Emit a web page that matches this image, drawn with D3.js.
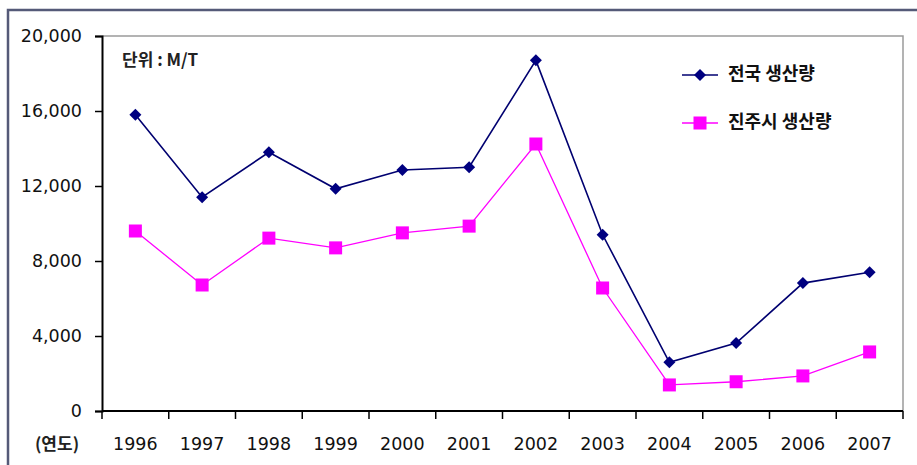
<!DOCTYPE html>
<html>
<head>
<meta charset="utf-8">
<script src="https://cdn.jsdelivr.net/npm/d3@7"></script>
<style>
  html, body { margin: 0; padding: 0; background: #fff; }
  svg { display: block; }
</style>
</head>
<body>
<svg id="chart" width="917" height="465"></svg>
<script>
const years = ["1996","1997","1998","1999","2000","2001","2002","2003","2004","2005","2006","2007"];
const nationalValues = [15800, 11400, 13800, 11850, 12850, 13000, 18700, 9400, 2600, 3620, 6820, 7400];
const cityValues = [9600, 6720, 9220, 8700, 9500, 9860, 14240, 6560, 1390, 1560, 1870, 3150];
const yTicks = [0, 4000, 8000, 12000, 16000, 20000];
const seriesNames = ["전국 생산량", "진주시 생산량"];
const unitLabel = "단위 : M/T";
const xAxisTitle = "(연도)";

const svg = d3.select("#chart");
const pL = 102, pR = 903, pT = 36, pB = 411;

const x = d3.scaleBand().domain(years).range([pL, pR]).paddingInner(0).paddingOuter(0);
const y = d3.scaleLinear().domain([0, 20000]).range([pB, pT]);

// outer frame
svg.append("rect").attr("x", 8).attr("y", 10).attr("width", 1000).attr("height", 1000)
  .attr("fill", "#fff").attr("stroke", "#555a78").attr("stroke-width", 2.5);

// plot area border (top & right gray)
svg.append("path")
  .attr("d", `M${pL},${pT}H${pR}V${pB}`)
  .attr("fill", "none").attr("stroke", "#9a9a9a").attr("stroke-width", 1.5);

const numFont = "'DejaVu Sans', sans-serif";
const krFont = "'Noto Sans CJK KR', sans-serif";

// y axis
const yAxis = d3.axisLeft(y).tickValues(yTicks).tickSize(7).tickPadding(13)
  .tickFormat(d3.format(","));
const gy = svg.append("g").attr("transform", `translate(${pL},0)`).call(yAxis);
gy.select(".domain").attr("stroke", "#000").attr("stroke-width", 2);
gy.selectAll(".tick line").attr("stroke", "#000").attr("stroke-width", 1.5);
gy.selectAll(".tick text").attr("font-family", numFont).attr("font-size", 17.5)
  .attr("fill", "#111");

// x axis: ticks at category boundaries
const boundaries = years.map(d => x(d)).concat([pR]);
const gx = svg.append("g").attr("transform", `translate(0,${pB})`);
gx.append("line").attr("x1", pL).attr("x2", pR).attr("y1", 0).attr("y2", 0)
  .attr("stroke", "#000").attr("stroke-width", 2);
gx.selectAll("line.tk").data(boundaries).enter().append("line").attr("class", "tk")
  .attr("x1", d => d).attr("x2", d => d)
  .attr("y1", 0).attr("y2", 8).attr("stroke", "#000").attr("stroke-width", 1.5);
gx.selectAll("text.lbl").data(years).enter().append("text").attr("class", "lbl")
  .attr("x", d => x(d) + x.bandwidth() / 2).attr("y", 34)
  .attr("text-anchor", "middle").attr("dominant-baseline", "middle")
  .attr("font-family", numFont).attr("font-size", 17.5).attr("fill", "#111")
  .text(d => d);

svg.append("text").attr("x", 57).attr("y", pB + 34)
  .attr("text-anchor", "middle").attr("dominant-baseline", "middle")
  .attr("font-family", krFont).attr("font-size", 17).attr("font-weight", 700)
  .attr("fill", "#222").text(xAxisTitle);

// unit label
svg.append("text").attr("x", 122).attr("y", 61).attr("dominant-baseline", "middle")
  .attr("font-family", krFont).attr("font-size", 17).attr("font-weight", 700)
  .attr("fill", "#222").text(unitLabel);

const cx = d => x(d) + x.bandwidth() / 2;
const line = d3.line().x((d, i) => cx(years[i])).y(d => y(d));

// national series
svg.append("path").datum(nationalValues).attr("d", line)
  .attr("fill", "none").attr("stroke", "#000070").attr("stroke-width", 1.6);
const diamond = d3.symbol().type(d3.symbolSquare).size(72);
svg.selectAll("path.dia").data(nationalValues).enter().append("path").attr("class", "dia")
  .attr("d", diamond)
  .attr("transform", (d, i) => `translate(${cx(years[i])},${y(d)}) rotate(45)`)
  .attr("fill", "#000080");

// city series
svg.append("path").datum(cityValues).attr("d", line)
  .attr("fill", "none").attr("stroke", "#ff00ff").attr("stroke-width", 1.3);
const sq = 13;
svg.selectAll("rect.sq").data(cityValues).enter().append("rect").attr("class", "sq")
  .attr("x", (d, i) => cx(years[i]) - sq / 2).attr("y", d => y(d) - sq / 2)
  .attr("width", sq).attr("height", sq).attr("fill", "#ff00ff");

// legend
const legend = svg.append("g");
const ly = [75, 123];
legend.append("line").attr("x1", 682).attr("x2", 718).attr("y1", ly[0]).attr("y2", ly[0])
  .attr("stroke", "#000070").attr("stroke-width", 1.6);
legend.append("path").attr("d", diamond).attr("transform", `translate(700,${ly[0]}) rotate(45)`)
  .attr("fill", "#000080");
legend.append("line").attr("x1", 682).attr("x2", 718).attr("y1", ly[1]).attr("y2", ly[1])
  .attr("stroke", "#ff00ff").attr("stroke-width", 1.3);
legend.append("rect").attr("x", 700 - sq / 2).attr("y", ly[1] - sq / 2)
  .attr("width", sq).attr("height", sq).attr("fill", "#ff00ff");
legend.selectAll("text").data(seriesNames).enter().append("text")
  .attr("x", 728).attr("y", (d, i) => ly[i]).attr("dominant-baseline", "middle")
  .attr("font-family", krFont).attr("font-size", 18)
  .attr("font-weight", 700).attr("fill", "#111")
  .text(d => d);
</script>
</body>
</html>
